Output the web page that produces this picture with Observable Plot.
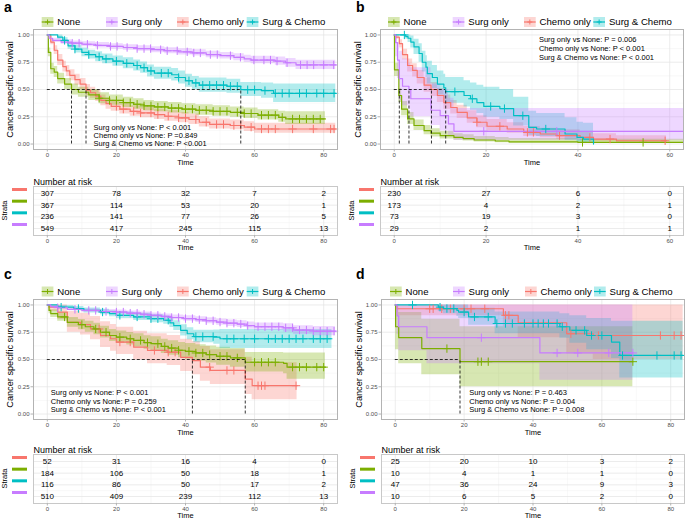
<!DOCTYPE html>
<html><head><meta charset="utf-8">
<script src="https://cdn.jsdelivr.net/npm/d3@7"></script>
<script src="https://cdn.jsdelivr.net/npm/@observablehq/plot@0.6"></script>
<style>
body{margin:0;background:#fff;font-family:"Liberation Sans",Arial,Helvetica,sans-serif;}
#root{position:relative;width:685px;height:522px;overflow:hidden;background:#fff;}
.box{position:absolute;}
.box svg{max-width:none;background:transparent;}
</style></head><body><div id="root"></div>
<script>
// ---------- categories & colours ----------
const groups = ["None", "Surg only", "Chemo only", "Surg & Chemo"];
const groupColors = ["#7CAE00", "#C77CFF", "#F8766D", "#00BFC4"];
const strataOrder = ["Chemo only", "None", "Surg & Chemo", "Surg only"];
const yTicks = [0, 0.25, 0.5, 0.75, 1];

// ---------- panel a : [time, survival, lower, upper] ----------
const aNone = [[0,1,1,1],[0.3,0.84,0.8,0.88],[1,0.69,0.64,0.74],[2,0.66,0.61,0.71],[3,0.6,0.55,0.65],[5,0.55,0.5,0.6],[7,0.5,0.45,0.55],[9,0.475,0.43,0.52],[12,0.45,0.4,0.5],[15,0.42,0.37,0.47],[18,0.4,0.355,0.45],[22,0.38,0.335,0.43],[25,0.365,0.32,0.415],[28,0.35,0.305,0.4],[31,0.34,0.295,0.39],[35,0.33,0.285,0.38],[39,0.32,0.275,0.37],[43,0.31,0.265,0.36],[48,0.3,0.255,0.35],[53,0.29,0.245,0.34],[57,0.28,0.235,0.33],[61,0.265,0.22,0.315],[67,0.245,0.2,0.3],[69,0.23,0.18,0.295],[80.5,0.23,0.18,0.295]];
const aSurg = [[0,1,1,1],[0.5,0.97,0.955,0.985],[1.5,0.95,0.93,0.97],[4,0.935,0.915,0.955],[7,0.925,0.905,0.945],[10,0.915,0.893,0.937],[14,0.905,0.88,0.93],[18,0.895,0.87,0.92],[22,0.885,0.86,0.91],[26,0.875,0.85,0.9],[30,0.865,0.838,0.892],[34,0.855,0.828,0.882],[38,0.845,0.817,0.873],[42,0.835,0.806,0.864],[46,0.82,0.79,0.85],[50,0.81,0.78,0.84],[54,0.795,0.763,0.827],[57,0.78,0.747,0.813],[59,0.77,0.735,0.805],[66,0.76,0.723,0.797],[69,0.745,0.705,0.785],[72,0.725,0.683,0.767],[83.5,0.725,0.683,0.767]];
const aChemo = [[0,1,1,1],[1,0.935,0.91,0.96],[2,0.86,0.82,0.9],[3,0.77,0.72,0.82],[4.5,0.71,0.66,0.76],[5.5,0.67,0.62,0.72],[6.5,0.63,0.58,0.68],[8,0.59,0.54,0.64],[9.5,0.55,0.5,0.6],[11.2,0.495,0.445,0.545],[12.5,0.47,0.42,0.52],[14,0.44,0.39,0.49],[15.5,0.4,0.35,0.45],[17,0.37,0.32,0.42],[18.5,0.345,0.3,0.395],[21,0.32,0.275,0.37],[24,0.3,0.255,0.35],[27,0.285,0.24,0.335],[31,0.27,0.225,0.32],[34,0.255,0.21,0.305],[38,0.24,0.195,0.29],[41,0.225,0.18,0.275],[44,0.2,0.157,0.25],[47,0.18,0.138,0.23],[53,0.17,0.13,0.22],[57,0.155,0.115,0.205],[60,0.138,0.098,0.19],[83.5,0.138,0.098,0.19]];
const aSC = [[0,1,1,1],[3,0.98,0.96,1],[4.5,0.95,0.925,0.975],[6,0.9,0.87,0.93],[8,0.87,0.835,0.905],[10,0.84,0.8,0.88],[12,0.82,0.78,0.86],[14,0.8,0.755,0.845],[16,0.78,0.735,0.825],[19,0.76,0.713,0.807],[22,0.74,0.69,0.79],[25,0.72,0.67,0.77],[27,0.7,0.648,0.752],[29,0.67,0.615,0.725],[31,0.65,0.595,0.705],[36,0.635,0.578,0.692],[38,0.61,0.55,0.67],[40,0.58,0.52,0.64],[42,0.56,0.5,0.62],[44,0.54,0.475,0.605],[52,0.53,0.465,0.595],[56,0.498,0.435,0.565],[62,0.49,0.42,0.56],[65.5,0.465,0.38,0.55],[83.5,0.465,0.38,0.55]];
const aNoneCens = [15,18,20,22,24,26,28,30,32,34,36,38,40,42,44,46,48,50,52,55,57,59,62,64,66,68,71,73,75,77,79];
const aSurgCens = [7.2,9.2,11.6,14.5,18.3,20.2,23.1,26,28,29.9,32.8,34.7,37.6,40.5,42.4,44.3,47.2,49.2,53,55.9,59.8,62.7,64.6,66.5,69.4,73.3,75.2,77.1,80,82.9];
const aChemoCens = [20,22,25,27,30,32,35,38,40,43,46,49,51,54,56,59,62,64,66,71,77,82,83];
const aSCCens = [5,8,12,15,17,20,23,26,28,30,33,35,38,41,43,45,47,49,51,53,55,58,60,63,66,68,70,73,75,78,80,83];
const aMedians = [7, 11.2, 56];
const aPText = ["Surg only vs None: P < 0.001", "Chemo only vs None: P =0.849", "Surg & Chemo vs None: P <0.001"];
const aPX = 13.4, aPY = [0.15, 0.075, 0];

// ---------- panel b ----------
const bNone = [[0,1,1,1],[0.05,0.68,0.62,0.74],[1,0.445,0.38,0.51],[1.6,0.32,0.26,0.39],[2.9,0.23,0.18,0.29],[4.3,0.17,0.125,0.22],[6.5,0.123,0.085,0.17],[8,0.1,0.065,0.14],[10,0.077,0.047,0.115],[13,0.061,0.035,0.095],[15,0.05,0.027,0.085],[17.4,0.037,0.018,0.07],[22,0.028,0.012,0.06],[25,0.02,0.008,0.05],[40,0.015,0.004,0.045],[63,0.015,0.004,0.045]];
const bSurg = [[0,1,1,1],[0.3,0.93,0.8,1],[0.7,0.77,0.6,0.93],[1.1,0.6,0.4,0.85],[1.8,0.53,0.35,0.78],[3.2,0.5,0.32,0.74],[3.6,0.415,0.25,0.7],[8,0.31,0.17,0.55],[10,0.26,0.12,0.5],[11.8,0.185,0.07,0.42],[13,0.117,0.035,0.325],[63,0.117,0.035,0.325]];
const bChemo = [[0,1,1,1],[0.3,0.98,0.96,1],[1.1,0.92,0.88,0.955],[1.8,0.82,0.77,0.87],[2.9,0.72,0.66,0.78],[4,0.675,0.615,0.735],[5,0.61,0.55,0.675],[6.5,0.54,0.475,0.605],[8,0.5,0.435,0.565],[9.4,0.445,0.38,0.51],[10.8,0.38,0.32,0.45],[12.3,0.335,0.275,0.4],[13.7,0.29,0.235,0.355],[15.9,0.24,0.19,0.305],[18,0.2,0.15,0.26],[20.2,0.163,0.12,0.225],[24.6,0.138,0.098,0.195],[28.2,0.107,0.07,0.16],[31.8,0.092,0.058,0.145],[35.4,0.077,0.045,0.13],[40.5,0.061,0.033,0.11],[43.4,0.046,0.022,0.095],[48.4,0.03,0.012,0.075],[59.3,0.03,0.012,0.075]];
const bSC = [[0,1,1,1],[2.5,0.985,0.96,1],[3,0.97,0.93,1],[3.6,0.935,0.88,0.99],[4.3,0.89,0.82,0.96],[5.4,0.83,0.75,0.92],[6.1,0.75,0.66,0.85],[6.9,0.705,0.61,0.81],[7.2,0.645,0.55,0.76],[8.3,0.61,0.51,0.72],[9.4,0.55,0.45,0.67],[10.8,0.515,0.41,0.64],[11.2,0.48,0.375,0.61],[15.2,0.445,0.34,0.58],[16.6,0.415,0.31,0.56],[18,0.38,0.28,0.54],[19.5,0.345,0.245,0.52],[23,0.325,0.225,0.5],[26,0.26,0.165,0.43],[29.3,0.153,0.08,0.3],[31,0.138,0.07,0.28],[37.2,0.092,0.035,0.24],[39.8,0.061,0.018,0.2],[41.2,0.046,0.01,0.19],[43.4,0,0,0]];
const bNoneCens = [41, 54.2];
const bSurgCens = [19.5, 35.4];
const bChemoCens = [18, 23, 29, 30.3, 36, 42.6, 47, 59];
const bSCCens = [2.2, 13.2, 17, 21, 24, 28, 33];
const bMedians = [1.1, 3.2, 8.1, 11.2];
const bPText = ["Surg only vs None: P = 0.006", "Chemo only vs None: P < 0.001", "Surg & Chemo vs None: P < 0.001"];
const bPX = 31.5, bPY = [0.957, 0.874, 0.79];

// ---------- panel c ----------
const cNone = [[0,1,1,1],[0.5,0.95,0.92,0.98],[1,0.92,0.885,0.955],[3,0.89,0.85,0.93],[5.8,0.84,0.795,0.885],[9,0.82,0.773,0.867],[11,0.8,0.75,0.85],[13.5,0.78,0.728,0.832],[15.4,0.75,0.696,0.804],[18,0.72,0.664,0.776],[20,0.705,0.648,0.762],[23,0.69,0.632,0.748],[25,0.675,0.615,0.735],[28,0.655,0.593,0.717],[30,0.645,0.582,0.708],[33,0.62,0.555,0.685],[35,0.605,0.538,0.672],[38,0.585,0.515,0.655],[40,0.575,0.503,0.647],[43,0.56,0.485,0.635],[46,0.545,0.467,0.623],[49,0.53,0.448,0.612],[53,0.515,0.43,0.6],[57.3,0.475,0.385,0.565],[68.4,0.465,0.37,0.56],[69.4,0.43,0.32,0.56],[80.5,0.43,0.32,0.56]];
const cSurg = [[0,1,1,1],[1,0.985,0.975,0.995],[3,0.975,0.963,0.987],[5.8,0.96,0.946,0.974],[10,0.95,0.934,0.966],[15,0.94,0.922,0.958],[20,0.935,0.916,0.954],[23,0.925,0.905,0.945],[27,0.915,0.894,0.936],[30,0.905,0.883,0.927],[33,0.895,0.872,0.918],[36,0.885,0.861,0.909],[39.5,0.875,0.85,0.9],[43,0.865,0.839,0.891],[46,0.855,0.828,0.882],[49,0.843,0.814,0.872],[52,0.833,0.803,0.863],[55,0.825,0.794,0.856],[57.8,0.81,0.777,0.843],[60,0.8,0.765,0.835],[68.4,0.79,0.753,0.827],[71.3,0.77,0.73,0.81],[77,0.76,0.718,0.802],[83.4,0.76,0.718,0.802]];
const cChemo = [[0,1,1,1],[0.5,0.98,0.94,1],[3,0.935,0.87,1],[5.8,0.84,0.75,0.94],[9.6,0.82,0.725,0.925],[12.5,0.78,0.68,0.895],[15.4,0.72,0.61,0.845],[18.3,0.69,0.575,0.82],[20,0.66,0.545,0.795],[25,0.613,0.495,0.76],[29,0.583,0.46,0.735],[34.7,0.567,0.445,0.72],[38.6,0.52,0.39,0.685],[42,0.49,0.36,0.665],[44.3,0.43,0.3,0.62],[47.2,0.4,0.27,0.59],[57.3,0.32,0.18,0.52],[59.3,0.26,0.13,0.47],[72.3,0.26,0.13,0.47]];
const cSC = [[0,1,1,1],[3,0.98,0.965,0.995],[7.7,0.967,0.948,0.986],[10.6,0.95,0.927,0.973],[15.4,0.935,0.91,0.96],[18,0.92,0.893,0.947],[20,0.905,0.875,0.935],[25,0.89,0.857,0.923],[30,0.874,0.838,0.91],[33.7,0.86,0.822,0.898],[35.5,0.835,0.793,0.877],[36.6,0.81,0.765,0.855],[38.6,0.767,0.716,0.818],[40.5,0.736,0.682,0.79],[42.4,0.71,0.653,0.767],[48.2,0.705,0.64,0.77],[50,0.69,0.6,0.775],[82.4,0.69,0.6,0.775]];
const cNoneCens = [5,10,14,17,21,24,27,29,32,34,36,38,41,43,45,47,50,52,55,60,62,64,66,71,73,75,78,80];
const cSurgCens = [3,8,12,14,17,20,22,24,26,28,30,32,34,36,38,40,42,44,46,48,50,52,54,56,58,61,63,65,67,69,71,73,75,77,79,81,83];
const cChemoCens = [15,21,24,31,35,37,47,52,54,61,62,63,72];
const cSCCens = [4,9,16,21,26,30,32,35,43,45,48,52,54,57,60,64,66,68,70,72,74,77,79,81];
const cMedians = [42, 57.3];
const cPText = ["Surg only vs None: P < 0.001", "Chemo only vs None: P = 0.259", "Surg & Chemo vs None: P < 0.001"];
const cPX = 1, cPY = [0.2, 0.117, 0.037];

// ---------- panel d ----------
const dNone = [[0,1,1,1],[0.1,0.8,0.59,1],[1,0.7,0.46,0.93],[7.7,0.6,0.36,0.87],[18.8,0.48,0.25,0.8],[69,0.48,0.25,0.8]];
const dSurg = [[0,1,1,1],[0.5,0.9,0.73,1],[1,0.8,0.58,1],[9.2,0.7,0.46,1],[42,0.56,0.31,1],[69,0.56,0.31,1]];
const dChemo = [[0,1,1,1],[0.5,0.965,0.9,1],[31.4,0.905,0.8,1],[35.7,0.837,0.7,1],[49.8,0.736,0.55,1],[57.5,0.72,0.5,1],[83.6,0.72,0.5,1]];
const dSC = [[0,1,1,1],[12.5,0.98,0.94,1],[14,0.967,0.92,1],[17.9,0.95,0.895,1],[18.4,0.935,0.875,1],[21.3,0.89,0.815,0.97],[29,0.83,0.735,0.935],[47.8,0.8,0.695,0.92],[50.7,0.767,0.65,0.9],[55.6,0.72,0.59,0.875],[62.8,0.66,0.51,0.85],[65.2,0.537,0.33,0.85],[83.6,0.537,0.33,0.85]];
const dNoneCens = [15, 24, 25, 27, 69];
const dSurgCens = [25, 47, 53, 62, 69];
const dChemoCens = [10, 11, 13.5, 16, 20, 22, 26, 32, 33, 51, 59, 77, 81, 83];
const dSCCens = [5, 13, 15, 17, 20, 23, 27, 29.5, 32, 34, 37.5, 40, 41.5, 43, 44.5, 47, 48.5, 52.5, 55, 57, 60, 66, 76, 81, 83];
const dMedians = [18.8];
const dPText = ["Surg only vs None: P = 0.463", "Chemo only vs None: P = 0.004", "Surg & Chemo vs None: P = 0.008"];
const dPX = 21.5, dPY = [0.2, 0.117, 0.037];

// ---------- number at risk (rows: Chemo only, None, Surg & Chemo, Surg only) ----------
const riskTimes80 = [0, 20, 40, 60, 80];
const riskTimes60 = [0, 20, 40, 60];
const riskA = [[307,78,32,7,2],[367,114,53,20,1],[236,141,77,26,5],[549,417,245,115,13]];
const riskB = [[230,27,6,0],[173,4,2,1],[73,19,3,0],[29,2,1,1]];
const riskC = [[52,31,16,4,0],[184,106,50,18,1],[116,86,50,17,2],[510,409,239,112,13]];
const riskD = [[25,20,10,3,2],[10,4,1,1,0],[47,36,24,9,3],[10,6,5,2,0]];

// ---------- helpers ----------
const FONT = '"Liberation Sans", Arial, Helvetica, sans-serif';
const root = document.getElementById("root");
function stepAt(curve, t) { let v = curve[0][1]; for (const r of curve) { if (r[0] <= t) v = r[1]; else break; } return v; }
function place(node, left, top) { const d = document.createElement("div"); d.className = "box"; d.style.left = left + "px"; d.style.top = top + "px"; d.appendChild(node); root.appendChild(d); }
function gridMarks(xTicks, xMinor, yMaj, yMin) {
  return [
    Plot.ruleX(xMinor, {stroke: "#f0f0f0", strokeWidth: 0.5}),
    Plot.ruleY(yMin, {stroke: "#f0f0f0", strokeWidth: 0.5}),
    Plot.ruleX(xTicks, {stroke: "#e4e4e4", strokeWidth: 0.7}),
    Plot.ruleY(yMaj, {stroke: "#e4e4e4", strokeWidth: 0.7})
  ];
}
function survPlot(o) {
  const rows = [], dots = [];
  strataOrder.forEach(g => {
    const i = groups.indexOf(g), c = o.curves[i];
    c.forEach(([t, s, lo, hi]) => rows.push({t, s, lo, hi, g}));
    o.cens[i].forEach(t => dots.push({t, s: stepAt(c, t), g}));
  });
  const maxMed = d3.max(o.medians);
  return Plot.plot({
    width: o.width, height: 168, marginLeft: o.mL, marginRight: o.mR, marginTop: 29, marginBottom: 19,
    style: {fontFamily: FONT, background: "transparent", overflow: "visible"},
    x: {domain: o.xDomain}, y: {domain: [-0.05, 1.05]},
    color: {domain: groups, range: groupColors},
    marks: [
      ...gridMarks(o.xTicks, o.xMinor, yTicks, [0.125, 0.375, 0.625, 0.875]),
      Plot.areaY(rows, {x: "t", y1: "lo", y2: "hi", z: "g", fill: "g", fillOpacity: 0.3, curve: "step-after"}),
      Plot.line(rows, {x: "t", y: "s", z: "g", stroke: "g", strokeWidth: 1.2, curve: "step-after"}),
      Plot.dot(dots, {x: "t", y: "s", stroke: "g", symbol: "plus", r: 2.8, strokeWidth: 1}),
      Plot.ruleY([{y: 0.5, x1: 0, x2: maxMed}], {y: "y", x1: "x1", x2: "x2", stroke: "black", strokeDasharray: "3,2", strokeWidth: 0.8}),
      Plot.ruleX(o.medians, {x: d => d, y1: () => 0, y2: () => 0.5, stroke: "black", strokeDasharray: "3,2", strokeWidth: 0.8}),
      Plot.text(o.pText, {x: () => o.pX, y: (d, i) => o.pY[i], text: d => d, textAnchor: "start", fontSize: 7.5, fill: "black"}),
      Plot.frame({stroke: "#b3b3b3"}),
      Plot.axisX({ticks: o.xTicks, tickSize: 2.5, tickPadding: 1, fontSize: 6, color: "#4d4d4d", stroke: "#b3b3b3", label: null}),
      Plot.axisY({ticks: yTicks, tickFormat: d3.format(".2f"), tickSize: 2.5, tickPadding: 1.5, fontSize: 6, color: "#4d4d4d", stroke: "#b3b3b3", label: null}),
      Plot.text(["Cancer specific survival"], {frameAnchor: "left", textAnchor: "middle", rotate: -90, dx: o.titleDx, fontSize: 9.2, fill: "black"}),
      Plot.text(["Time"], {frameAnchor: "bottom", dy: 15, fontSize: 7.5, fill: "black"})
    ]
  });
}
function riskPlot(o) {
  const data = [];
  strataOrder.forEach((g, i) => o.risk[i].forEach((n, j) => data.push({t: o.times[j], row: 4 - i, n})));
  return Plot.plot({
    width: o.width, height: 82, marginLeft: o.mL, marginRight: o.mR, marginTop: 16, marginBottom: 17,
    style: {fontFamily: FONT, background: "transparent", overflow: "visible"},
    x: {domain: o.xDomain}, y: {domain: [0.4, 4.6], axis: null},
    marks: [
      ...gridMarks(o.xTicks, o.xMinor, [1, 2, 3, 4], [1.5, 2.5, 3.5]),
      Plot.frame({stroke: "#c8c8c8"}),
      Plot.text(data, {x: "t", y: "row", text: "n", fontSize: 8, fill: "black"}),
      Plot.axisX({ticks: o.xTicks, tickSize: 2.5, tickPadding: 1, fontSize: 6, color: "#4d4d4d", stroke: "#b3b3b3", label: null}),
      Plot.text(["Time"], {frameAnchor: "bottom", dy: 14.5, fontSize: 7.5, fill: "black"}),
      Plot.text(["Number at risk"], {frameAnchor: "top-left", dy: -8, textAnchor: "start", fontSize: 9, fill: "black"})
    ]
  });
}

const L80 = {xDomain: [-4, 84], xTicks: [0, 20, 40, 60, 80], xMinor: [10, 30, 50, 70]};
const L60 = {xDomain: [-3, 63], xTicks: [0, 20, 40, 60], xMinor: [10, 30, 50]};
const colA = {width: 342, mL: 33, mR: 5, titleDx: -23};
const colB = {width: 343, mL: 38, mR: 2, titleDx: -22};
const colD = {width: 343, mL: 39, mR: 1, titleDx: -22};

place(survPlot({...L80, ...colA, curves: [aNone, aSurg, aChemo, aSC], cens: [aNoneCens, aSurgCens, aChemoCens, aSCCens], medians: aMedians, pText: aPText, pX: aPX, pY: aPY}), 0, 0);
place(survPlot({...L60, ...colB, curves: [bNone, bSurg, bChemo, bSC], cens: [bNoneCens, bSurgCens, bChemoCens, bSCCens], medians: bMedians, pText: bPText, pX: bPX, pY: bPY}), 342, 0);
place(survPlot({...L80, ...colA, curves: [cNone, cSurg, cChemo, cSC], cens: [cNoneCens, cSurgCens, cChemoCens, cSCCens], medians: cMedians, pText: cPText, pX: cPX, pY: cPY}), 0, 270);
place(survPlot({...L80, ...colD, curves: [dNone, dSurg, dChemo, dSC], cens: [dNoneCens, dSurgCens, dChemoCens, dSCCens], medians: dMedians, pText: dPText, pX: dPX, pY: dPY}), 342, 270);

place(riskPlot({...L80, ...colA, risk: riskA, times: riskTimes80}), 0, 170);
place(riskPlot({...L60, ...colB, risk: riskB, times: riskTimes60}), 342, 170);
place(riskPlot({...L80, ...colA, risk: riskC, times: riskTimes80}), 0, 438);
place(riskPlot({...L80, ...colD, risk: riskD, times: riskTimes80}), 342, 438);

// ---------- overlay: panel letters, legends, strata keys ----------
const ov = d3.select(root).append("svg").attr("width", 685).attr("height", 522)
  .style("position", "absolute").style("left", 0).style("top", 0).style("font-family", FONT).style("pointer-events", "none");
[["a", 4, 12], ["b", 356, 12], ["c", 4, 279], ["d", 356, 279]].forEach(([t, x, y]) =>
  ov.append("text").attr("x", x).attr("y", y).attr("font-size", 14).attr("font-weight", "bold").text(t));

function legend(xs, yc) {
  groups.forEach((g, i) => {
    const x = xs[i], c = groupColors[i], gg = ov.append("g");
    gg.append("rect").attr("x", x).attr("y", yc - 5).attr("width", 11.7).attr("height", 10).attr("fill", c).attr("fill-opacity", 0.3);
    gg.append("line").attr("x1", x).attr("x2", x + 11.7).attr("y1", yc).attr("y2", yc).attr("stroke", c).attr("stroke-width", 1.2);
    gg.append("path").attr("d", `M${x + 5.85 - 2.5},${yc}h5M${x + 5.85},${yc - 2.5}v5`).attr("stroke", c).attr("stroke-width", 1);
    gg.append("text").attr("x", x + 15.6).attr("y", yc).attr("dy", "0.35em").attr("font-size", 9.6).text(g);
  });
}
legend([41.7, 106, 177, 246.7], 22);
legend([388, 452.7, 524, 593.3], 22);
legend([41.7, 106, 177, 246.7], 291.5);
legend([390, 453, 525, 594], 291.5);

function strataKeys(frameLeft, frameTop) {
  strataOrder.forEach((g, i) => {
    const yRow = frameTop + (0.6 + i) * (49 / 4.2);
    ov.append("rect").attr("x", frameLeft - 21).attr("y", yRow - 5).attr("width", 15).attr("height", 3)
      .attr("fill", groupColors[groups.indexOf(g)]);
  });
  ov.append("text").attr("transform", `translate(${frameLeft - 29},${frameTop + 24.5}) rotate(-90)`)
    .attr("text-anchor", "middle").attr("dy", "0.35em").attr("font-size", 7.5).text("Strata");
}
strataKeys(33, 186);
strataKeys(380, 186);
strataKeys(33, 454);
strataKeys(381, 454);
</script></body></html>
